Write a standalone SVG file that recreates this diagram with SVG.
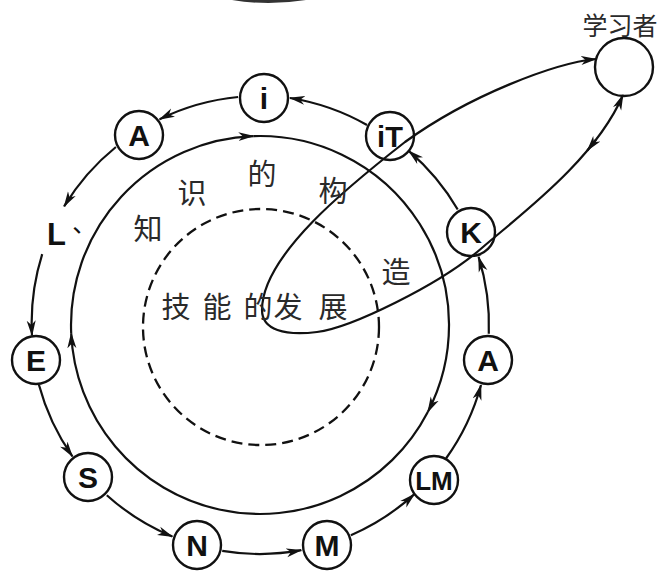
<svg xmlns="http://www.w3.org/2000/svg" width="661" height="572" viewBox="0 0 661 572">
<style>
  .ln{fill:none;stroke:#111;stroke-width:2.2}
  .nd{fill:#fff;stroke:#111;stroke-width:2.4}
  .lbl{font-family:"Liberation Sans",Arial,sans-serif;font-weight:bold;font-size:30px;fill:#111;text-anchor:middle}
  .zh{font-family:"Noto Sans CJK SC",sans-serif;font-size:29px;fill:#2a2a2a;text-anchor:middle}
</style>
<defs>
  <marker id="ah" viewBox="0 0 16 10" refX="15" refY="5" markerWidth="16" markerHeight="10" markerUnits="userSpaceOnUse" orient="auto-start-reverse">
    <path d="M0,0.5 L16,5 L0,9.5 L4.5,5 Z" fill="#111"/>
  </marker>
</defs>
<rect width="661" height="572" fill="#fff"/>
<path d="M232,0 Q268,6 306,0 Z" fill="#333"/>

<g id="core">
  <circle cx="261" cy="327" r="118" fill="none" stroke="#111" stroke-width="2.3" stroke-dasharray="11 6"/>
</g>

<g id="nodes">
  <g id="n-iT"><circle class="nd" cx="390" cy="136" r="24"/><text class="lbl" x="390" y="146.5" style="font-size:29px">iT</text></g>
  <g id="n-i"><circle class="nd" cx="264" cy="98" r="24"/><text class="lbl" x="264" y="109">i</text></g>
  <g id="n-A1"><circle class="nd" cx="139" cy="135" r="24"/><text class="lbl" x="139" y="146">A</text></g>
  <g id="n-L"><text class="lbl" x="47" y="245" style="text-anchor:start;font-size:31px">L<tspan x="65" y="239" style="font-family:'Noto Sans CJK TC',sans-serif;font-weight:normal;font-size:24px">、</tspan></text></g>
  <g id="n-E"><circle class="nd" cx="36" cy="360" r="24"/><text class="lbl" x="36" y="371">E</text></g>
  <g id="n-S"><circle class="nd" cx="88" cy="477" r="24"/><text class="lbl" x="88" y="488">S</text></g>
  <g id="n-N"><circle class="nd" cx="197" cy="545" r="24"/><text class="lbl" x="197" y="556">N</text></g>
  <g id="n-M"><circle class="nd" cx="327" cy="545" r="24"/><text class="lbl" x="327" y="556">M</text></g>
  <g id="n-LM"><circle class="nd" cx="434" cy="480" r="24"/><text class="lbl" x="434" y="489.5" style="font-size:26px">LM</text></g>
  <g id="n-A2"><circle class="nd" cx="488" cy="360" r="24"/><text class="lbl" x="488" y="371">A</text></g>
  <g id="n-K"><circle class="nd" cx="471" cy="232" r="24"/><text class="lbl" x="471" y="243">K</text></g>
  <g id="n-learner"><circle class="nd" cx="624" cy="67" r="29"/><text class="zh" x="620" y="35" style="font-size:25px">学习者</text></g>
</g>

<g id="connectors">
  <path class="ln" marker-end="url(#ah)" d="M367,125 A229,229 0 0 0 289.9,98"/>
  <path class="ln" marker-end="url(#ah)" d="M238.1,97 A229,229 0 0 0 159.6,119.2"/>
  <path class="ln" marker-end="url(#ah)" d="M115.9,147 A229,229 0 0 0 64.1,206.4"/>
  <path class="ln" marker-end="url(#ah)" d="M42.2,254.2 A229,229 0 0 0 32,335.5"/>
  <path class="ln" marker-end="url(#ah)" d="M38.9,384.7 A229,229 0 0 0 72.4,456.4"/>
  <path class="ln" marker-end="url(#ah)" d="M106.8,495.2 A229,229 0 0 0 172.4,536.6"/>
  <path class="ln" marker-end="url(#ah)" d="M222.2,550.9 A229,229 0 0 0 301.3,550.2"/>
  <path class="ln" marker-end="url(#ah)" d="M350.9,535.2 A229,229 0 0 0 414.4,494.1"/>
  <path class="ln" marker-end="url(#ah)" d="M446,458.5 A229,229 0 0 0 481,385"/>
  <path class="ln" marker-end="url(#ah)" d="M488.8,333.8 A229,229 0 0 0 478.6,256.9"/>
  <path class="ln" marker-end="url(#ah)" d="M457.7,209.5 A229,229 0 0 0 408.7,150.9"/>
  <path class="ln" marker-end="url(#ah)" d="M71.2,333.2 A189,189 0 0 1 253.4,136.1"/>
  <path class="ln" marker-end="url(#ah)" d="M253.4,136.1 A189,189 0 0 1 427.8,412"/>
  <path class="ln" marker-end="url(#ah)" d="M427.8,412 A189,189 0 0 1 71.2,333.2"/>
  <path class="ln" marker-start="url(#ah)" marker-end="url(#ah)" d="M623,95 C595,160 520,215 483,247 C440,285 350,328 317,332 C285,336 262,330 262,310 C262,255 350,185 405,142 C470,95 555,63 596,59"/>
  <path class="ln" marker-end="url(#ah)" d="M595.9,139.8 L587.4,150.5"/>
</g>

<g id="labels">
  <text class="zh" x="148" y="240">知</text>
  <text class="zh" x="192" y="204">识</text>
  <text class="zh" x="262" y="185">的</text>
  <text class="zh" x="333" y="202">构</text>
  <text class="zh" x="396" y="283">造</text>
  <text class="zh" x="176" y="318">技</text>
  <text class="zh" x="217" y="318">能</text>
  <text class="zh" x="258" y="318">的</text>
  <text class="zh" x="288" y="318">发</text>
  <text class="zh" x="333" y="318">展</text>
</g>
</svg>
